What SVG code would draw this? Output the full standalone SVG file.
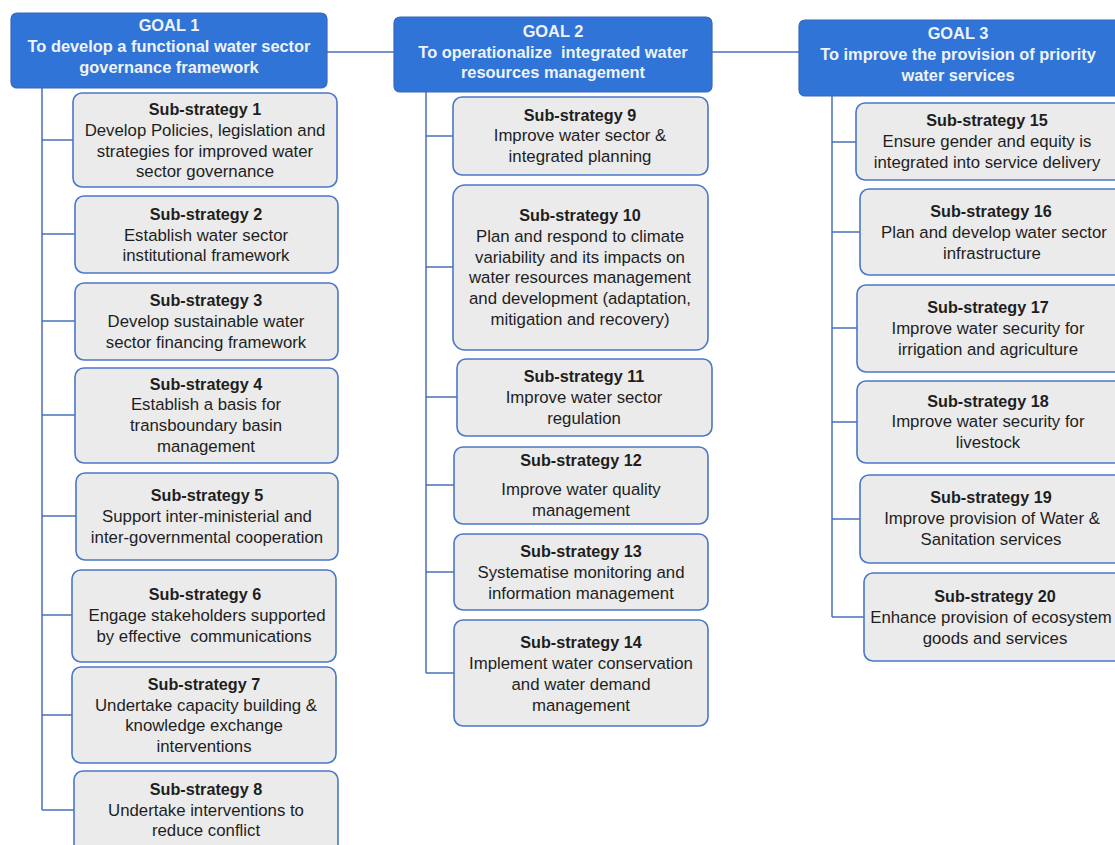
<svg xmlns="http://www.w3.org/2000/svg" width="1115" height="845" viewBox="0 0 1115 845">
<style>
.goal{fill:#2F74D6;stroke:#3A67B8;stroke-width:1.2}
.goaltx{font-family:"Liberation Sans",Arial,sans-serif;font-size:16.4px;font-weight:bold;fill:#EEF3FC;text-anchor:middle}
.sub{fill:#EBEBEB;stroke:#4A78C8;stroke-width:1.6}
.tx{font-family:"Liberation Sans",Arial,sans-serif;font-size:16.8px;fill:#1E1E1E;text-anchor:middle}
.tt{font-weight:bold;font-size:16.2px}
.con{fill:none;stroke:#4A70BA;stroke-width:1.5}
</style>
<rect width="1115" height="845" fill="#FFFFFF"/>
<g id="connectors">
<path class="con" d="M327,52H394M712,52H799"/>
<path class="con" d="M42,88V810M42,140H73M42,234H75M42,321H75M42,415H75M42,516H76M42,615H72M42,715H72M42,810H74"/>
<path class="con" d="M426,92V673M426,136H453M426,267H453M426,397H457M426,485H454M426,572H454M426,673H454"/>
<path class="con" d="M832,96V617M832,142H856M832,232H860M832,328H857M832,422H857M832,519H860M832,617H864"/>
</g>
<g id="goal1"><rect class="goal" x="11" y="13" width="316" height="75" rx="6"/>
<text class="goaltx"><tspan x="169" y="31">GOAL 1</tspan><tspan x="169" y="52">To develop a functional water sector</tspan><tspan x="169" y="73">governance framework</tspan></text></g>
<g id="goal2"><rect class="goal" x="394" y="17" width="318" height="75" rx="6"/>
<text class="goaltx" xml:space="preserve"><tspan x="553" y="37">GOAL 2</tspan><tspan x="553" y="58">To operationalize  integrated water</tspan><tspan x="553" y="78">resources management</tspan></text></g>
<g id="goal3"><rect class="goal" x="799" y="20" width="330" height="76" rx="6"/>
<text class="goaltx"><tspan x="958" y="39">GOAL 3</tspan><tspan x="958" y="60">To improve the provision of priority</tspan><tspan x="958" y="81">water services</tspan></text></g>

<g id="ss1"><rect class="sub" x="73" y="93" width="264" height="94" rx="9"/>
<text class="tx"><tspan class="tt" x="205" y="115">Sub-strategy 1</tspan><tspan x="205" y="136">Develop Policies, legislation and</tspan><tspan x="205" y="157">strategies for improved water</tspan><tspan x="205" y="177">sector governance</tspan></text></g>
<g id="ss2"><rect class="sub" x="75" y="196" width="263" height="77" rx="9"/>
<text class="tx"><tspan class="tt" x="206" y="220">Sub-strategy 2</tspan><tspan x="206" y="241">Establish water sector</tspan><tspan x="206" y="261">institutional framework</tspan></text></g>
<g id="ss3"><rect class="sub" x="75" y="283" width="263" height="77" rx="9"/>
<text class="tx"><tspan class="tt" x="206" y="306">Sub-strategy 3</tspan><tspan x="206" y="327">Develop sustainable water</tspan><tspan x="206" y="348">sector financing framework</tspan></text></g>
<g id="ss4"><rect class="sub" x="75" y="368" width="263" height="95" rx="9"/>
<text class="tx"><tspan class="tt" x="206" y="390">Sub-strategy 4</tspan><tspan x="206" y="410">Establish a basis for</tspan><tspan x="206" y="431">transboundary basin</tspan><tspan x="206" y="452">management</tspan></text></g>
<g id="ss5"><rect class="sub" x="76" y="473" width="262" height="87" rx="9"/>
<text class="tx"><tspan class="tt" x="207" y="501">Sub-strategy 5</tspan><tspan x="207" y="522">Support inter-ministerial and</tspan><tspan x="207" y="543">inter-governmental cooperation</tspan></text></g>
<g id="ss6"><rect class="sub" x="72" y="570" width="264" height="92" rx="9"/>
<text class="tx" xml:space="preserve"><tspan class="tt" x="205" y="600">Sub-strategy 6</tspan><tspan x="207" y="621">Engage stakeholders supported</tspan><tspan x="204" y="642">by effective  communications</tspan></text></g>
<g id="ss7"><rect class="sub" x="72" y="667" width="264" height="96" rx="9"/>
<text class="tx"><tspan class="tt" x="204" y="690">Sub-strategy 7</tspan><tspan x="206" y="711">Undertake capacity building &amp;</tspan><tspan x="204" y="731">knowledge exchange</tspan><tspan x="204" y="752">interventions</tspan></text></g>
<g id="ss8"><rect class="sub" x="74" y="771" width="264" height="90" rx="9"/>
<text class="tx"><tspan class="tt" x="206" y="795">Sub-strategy 8</tspan><tspan x="206" y="816">Undertake interventions to</tspan><tspan x="206" y="836">reduce conflict</tspan></text></g>

<g id="ss9"><rect class="sub" x="453" y="97" width="255" height="78" rx="9"/>
<text class="tx"><tspan class="tt" x="580" y="121">Sub-strategy 9</tspan><tspan x="580" y="141">Improve water sector &amp;</tspan><tspan x="580" y="162">integrated planning</tspan></text></g>
<g id="ss10"><rect class="sub" x="453" y="185" width="255" height="165" rx="12"/>
<text class="tx"><tspan class="tt" x="580" y="221">Sub-strategy 10</tspan><tspan x="580" y="242">Plan and respond to climate</tspan><tspan x="580" y="263">variability and its impacts on</tspan><tspan x="580" y="283">water resources management</tspan><tspan x="580" y="304">and development (adaptation,</tspan><tspan x="580" y="325">mitigation and recovery)</tspan></text></g>
<g id="ss11"><rect class="sub" x="457" y="359" width="255" height="77" rx="9"/>
<text class="tx"><tspan class="tt" x="584" y="382">Sub-strategy 11</tspan><tspan x="584" y="403">Improve water sector</tspan><tspan x="584" y="424">regulation</tspan></text></g>
<g id="ss12"><rect class="sub" x="454" y="447" width="254" height="77" rx="9"/>
<text class="tx"><tspan class="tt" x="581" y="466">Sub-strategy 12</tspan><tspan x="581" y="495">Improve water quality</tspan><tspan x="581" y="516">management</tspan></text></g>
<g id="ss13"><rect class="sub" x="454" y="534" width="254" height="76" rx="9"/>
<text class="tx"><tspan class="tt" x="581" y="557">Sub-strategy 13</tspan><tspan x="581" y="578">Systematise monitoring and</tspan><tspan x="581" y="599">information management</tspan></text></g>
<g id="ss14"><rect class="sub" x="454" y="620" width="254" height="106" rx="9"/>
<text class="tx"><tspan class="tt" x="581" y="648">Sub-strategy 14</tspan><tspan x="581" y="669">Implement water conservation</tspan><tspan x="581" y="690">and water demand</tspan><tspan x="581" y="711">management</tspan></text></g>

<g id="ss15"><rect class="sub" x="856" y="103" width="270" height="77" rx="9"/>
<text class="tx"><tspan class="tt" x="987" y="126">Sub-strategy 15</tspan><tspan x="987" y="147">Ensure gender and equity is</tspan><tspan x="987" y="168">integrated into service delivery</tspan></text></g>
<g id="ss16"><rect class="sub" x="860" y="189" width="270" height="86" rx="9"/>
<text class="tx"><tspan class="tt" x="991" y="217">Sub-strategy 16</tspan><tspan x="994" y="238">Plan and develop water sector</tspan><tspan x="992" y="259">infrastructure</tspan></text></g>
<g id="ss17"><rect class="sub" x="857" y="285" width="270" height="87" rx="9"/>
<text class="tx"><tspan class="tt" x="988" y="313">Sub-strategy 17</tspan><tspan x="988" y="334">Improve water security for</tspan><tspan x="988" y="355">irrigation and agriculture</tspan></text></g>
<g id="ss18"><rect class="sub" x="857" y="381" width="270" height="82" rx="9"/>
<text class="tx"><tspan class="tt" x="988" y="407">Sub-strategy 18</tspan><tspan x="988" y="427">Improve water security for</tspan><tspan x="988" y="448">livestock</tspan></text></g>
<g id="ss19"><rect class="sub" x="860" y="475" width="270" height="88" rx="9"/>
<text class="tx"><tspan class="tt" x="991" y="503">Sub-strategy 19</tspan><tspan x="992" y="524">Improve provision of Water &amp;</tspan><tspan x="991" y="545">Sanitation services</tspan></text></g>
<g id="ss20"><rect class="sub" x="864" y="573" width="270" height="88" rx="9"/>
<text class="tx"><tspan class="tt" x="995" y="602">Sub-strategy 20</tspan><tspan x="991" y="623">Enhance provision of ecosystem</tspan><tspan x="995" y="644">goods and services</tspan></text></g>
</svg>
